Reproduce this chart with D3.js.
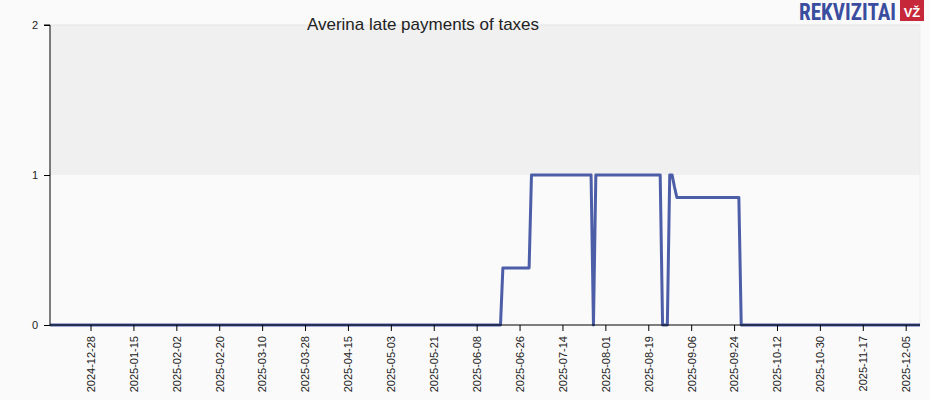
<!DOCTYPE html>
<html><head><meta charset="utf-8">
<script src="https://cdn.jsdelivr.net/npm/d3@7"></script>
<style>
html,body{margin:0;padding:0;background:#fafafa;}
svg{display:block;font-family:"Liberation Sans",Arial,sans-serif;}
</style></head>
<body>
<svg id="c" width="930" height="400"></svg>
<script>
const title = "Averina late payments of taxes";
const dates = ["2024-12-11","2025-06-18","2025-06-19","2025-06-30","2025-07-01","2025-07-26","2025-07-27","2025-07-28","2025-08-24","2025-08-25","2025-08-27","2025-08-28","2025-08-29","2025-08-30","2025-08-31","2025-09-26","2025-09-27","2025-12-11"];
const values = [0,0,0.38,0.38,1,1,0,1,1,0,0,1,1,0.92,0.85,0.85,0,0];
const yTicks = [0,1,2];
const xTickLabels = ["2024-12-28","2025-01-15","2025-02-02","2025-02-20","2025-03-10","2025-03-28","2025-04-15","2025-05-03","2025-05-21","2025-06-08","2025-06-26","2025-07-14","2025-08-01","2025-08-19","2025-09-06","2025-09-24","2025-10-12","2025-10-30","2025-11-17","2025-12-05"];
const domainStart = "2024-12-11", domainEnd = "2025-12-11";

const parse = d3.utcParse("%Y-%m-%d");
const svg = d3.select("#c");
const m = {l:50, r:920, t:25, b:325};
const x = d3.scaleUtc().domain([parse(domainStart), parse(domainEnd)]).range([m.l, m.r]);
const y = d3.scaleLinear().domain([0,2]).range([m.b, m.t]);

// bands
svg.append("rect").attr("x",m.l).attr("width",m.r-m.l).attr("y",y(2)).attr("height",y(1)-y(2)).attr("fill","#f0f0f0");
svg.append("rect").attr("x",m.l).attr("width",m.r-m.l).attr("y",y(1)).attr("height",y(0)-y(1)).attr("fill","#fafafa");
svg.append("line").attr("x1",m.l).attr("x2",m.r).attr("y1",y(2)).attr("y2",y(2)).attr("stroke","#e4e4e4");
svg.append("line").attr("x1",m.r).attr("x2",m.r).attr("y1",y(2)).attr("y2",y(0)).attr("stroke","#ececec");

// line
const data = dates.map((d,i)=>({d:parse(d), v:values[i]}));
svg.append("path").datum(data)
  .attr("d", d3.line().x(p=>x(p.d)).y(p=>y(p.v)))
  .attr("fill","none").attr("stroke","#3a4d9f").attr("stroke-width",3).attr("stroke-opacity",0.9)
  .attr("stroke-linejoin","round");

// y axis
const ya = svg.append("g").attr("transform",`translate(${m.l},0)`)
  .call(d3.axisLeft(y).tickValues(yTicks).tickFormat(d3.format("d")).tickSize(6).tickPadding(6));
ya.select(".domain").attr("stroke","#000").attr("d",`M-6,${y(2)}H0V${y(0)}`);
ya.selectAll("text").attr("font-size",11).attr("fill","#222").attr("font-family","'Liberation Sans',Arial,sans-serif");

// x axis
const xa = svg.append("g").attr("transform",`translate(0,${m.b})`)
  .call(d3.axisBottom(x).tickValues(xTickLabels.map(parse)).tickFormat(d3.utcFormat("%Y-%m-%d")).tickSize(6));
xa.select(".domain").attr("stroke","#000").attr("d",`M${m.l},0H${m.r}`);
xa.selectAll("text").attr("font-size",11).attr("fill","#222").attr("font-family","'Liberation Sans',Arial,sans-serif")
  .attr("text-anchor","end").attr("transform","rotate(-90)").attr("x",-11).attr("y",0).attr("dy","0.35em");

// title
svg.append("text").attr("x",423).attr("y",30).attr("text-anchor","middle").attr("font-size",17).attr("fill","#222").text(title);

// logo
svg.append("text").attr("x",799).attr("y",20).attr("font-size",23).attr("font-weight","bold")
  .attr("font-family","'Liberation Sans Narrow','Roboto Condensed',sans-serif").attr("fill","#3a4d9f")
  .attr("textLength",97).attr("lengthAdjust","spacingAndGlyphs").text("REKVIZITAI");
svg.append("rect").attr("x",900).attr("y",0).attr("width",24).attr("height",21).attr("fill","#c6283a");
svg.append("text").attr("x",912).attr("y",17).attr("text-anchor","middle").attr("font-size",13).attr("font-weight","bold")
  .attr("fill","#fff").text("VŽ");
</script>
</body></html>
